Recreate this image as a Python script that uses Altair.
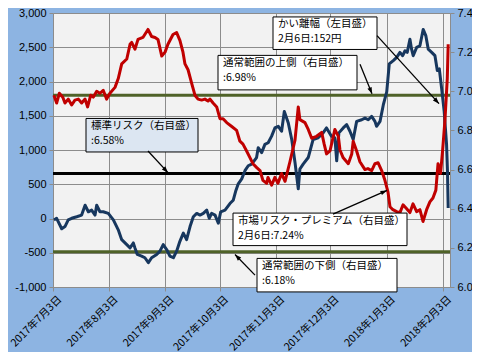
import math
import altair as alt
import pandas as pd

# ---------------- data ----------------
# days since 2017-07-03 and spread (left axis, yen)
blue_days = [0.5, 2.0, 4.8, 6.6, 8.4, 10.3, 13.1, 15.8, 17.7, 19.5,
             21.3, 23.2, 24.1, 25.9, 27.7, 30.5, 33.3, 36.0, 37.9, 40.7,
             42.5, 44.3, 45.2, 46.5, 48.9, 50.7, 52.6, 54.4, 57.2, 59.0,
             60.8, 62.7, 64.5, 66.4, 68.2, 70.0, 71.9, 73.7, 75.6, 77.4,
             79.3, 81.1, 82.9, 84.8, 86.2, 87.5, 89.4, 91.2, 92.5, 94.9,
             97.6, 99.4, 100.9, 102.2, 104.1, 105.9, 107.7, 109.6, 112.3, 113.2,
             115.1, 116.9, 118.7, 120.6, 122.4, 124.3, 126.1, 127.6, 129.8, 131.7,
             133.5, 135.3, 136.2, 138.0, 140.8, 143.5, 146.3, 149.0, 150.9, 153.6,
             155.5, 156.5, 157.7, 160.1, 162.0, 163.8, 165.6, 167.5, 170.3, 172.1,
             173.9, 175.8, 177.6, 178.5, 180.4, 182.2, 184.1, 185.5, 187.7, 189.6,
             191.4, 192.9, 194.2, 195.4, 196.9, 197.8, 198.7, 200.6, 202.4, 204.2,
             205.7, 207.0, 208.9, 210.7, 212.0, 213.1, 214.4, 215.8, 217.1, 217.6,
             218.0]
blue_vals = [-21, 3, -150, -118, -21, 3, 26, 50, 194, 98,
             122, 50, 194, 98, 98, 74, -21, -165, -309, -381,
             -429, -357, -429, -525, -549, -573, -645, -573, -525, -477,
             -381, -453, -549, -573, -477, -333, -213, -309, -118, 26,
             74, 50, 74, 122, 3, 74, 50, -69, 98, 122,
             218, 266, 410, 506, 578, 698, 770, 794, 890, 1034,
             962, 1082, 1106, 1202, 1322, 1346, 1274, 1561, 1394, 1154,
             818, 434, 722, 794, 890, 1154, 1178, 1250, 1322, 1202,
             1178, 842, 1250, 1322, 1370, 1274, 1154, 1418, 1442, 1466,
             1442, 1490, 1418, 1346, 1418, 1658, 1849, 2256, 2305, 2353,
             2425, 2377, 2449, 2425, 2616, 2472, 2377, 2497, 2521, 2760,
             2665, 2472, 2425, 2377, 2161, 2185, 1897, 1561, 1082, 698,
             152]

# days since 2017-07-03 and market risk premium (right axis, %)
red_days = [0.5, 2.0, 3.5, 5.4, 6.6, 8.4, 10.3, 12.1, 14.0, 15.8,
            17.7, 19.1, 20.8, 22.2, 24.1, 25.9, 27.7, 29.6, 31.4, 34.2,
            36.0, 37.9, 40.7, 42.5, 43.4, 45.2, 46.9, 49.6, 52.4, 54.4,
            56.3, 57.9, 60.0, 61.8, 63.4, 66.2, 68.2, 70.0, 71.7, 72.8,
            74.5, 76.5, 78.3, 80.0, 82.0, 83.8, 85.5, 86.6, 88.3, 90.3,
            92.1, 93.8, 95.8, 98.6, 101.3, 103.1, 104.8, 106.8, 108.7, 110.3,
            112.4, 114.2, 115.8, 117.9, 118.6, 120.6, 122.4, 124.1, 126.1, 128.0,
            130.7, 133.5, 135.3, 136.2, 139.0, 140.8, 142.7, 145.4, 148.2, 149.6,
            150.9, 152.8, 155.5, 157.4, 158.3, 160.1, 162.9, 164.8, 165.6, 167.5,
            169.3, 172.1, 173.7, 175.8, 177.6, 179.3, 181.3, 183.1, 184.8, 185.9,
            187.5, 189.6, 191.4, 193.1, 195.1, 196.9, 198.6, 200.6, 202.4, 204.1,
            206.1, 207.9, 209.6, 211.2, 212.4, 213.8, 214.9, 216.2, 217.5, 218.0]
red_vals = [6.98, 6.94, 6.99, 6.97, 6.94, 6.96, 6.93, 6.955, 6.96, 6.94,
            6.96, 6.92, 6.98, 6.97, 7.00, 6.99, 7.005, 6.96, 6.99, 7.02,
            7.065, 7.14, 7.165, 7.24, 7.25, 7.215, 7.265, 7.275, 7.316, 7.28,
            7.275, 7.265, 7.18, 7.20, 7.24, 7.29, 7.30, 7.26, 7.20, 7.14,
            7.11, 7.04, 6.98, 6.96, 6.955, 6.96, 6.95, 6.96, 6.94, 6.92,
            6.86, 6.86, 6.84, 6.82, 6.80, 6.745, 6.73, 6.695, 6.66, 6.63,
            6.61, 6.595, 6.545, 6.53, 6.56, 6.52, 6.56, 6.53, 6.58, 6.54,
            6.64, 6.75, 6.92, 6.855, 6.84, 6.805, 6.76, 6.77, 6.79, 6.73,
            6.68, 6.695, 6.805, 6.77, 6.70, 6.66, 6.63, 6.68, 6.745, 6.695,
            6.64, 6.60, 6.605, 6.595, 6.63, 6.635, 6.595, 6.545, 6.485, 6.41,
            6.395, 6.385, 6.38, 6.42, 6.40, 6.38, 6.425, 6.385, 6.395, 6.335,
            6.395, 6.435, 6.455, 6.495, 6.63, 6.58, 6.695, 6.85, 7.065, 7.24]

ref_levels = [6.98, 6.58, 6.18]
ref_kinds = ["上側", "標準", "下側"]
ref_colors = ["#4F6228", "#000000", "#4F6228"]

tick_months = [(2017, 7), (2017, 8), (2017, 9), (2017, 10), (2017, 11),
               (2017, 12), (2018, 1), (2018, 2)]
left_ticks = [-1000, -500, 0, 500, 1000, 1500, 2000, 2500, 3000]
right_ticks = [6.0, 6.2, 6.4, 6.6, 6.8, 7.0, 7.2, 7.4]

annotation_texts = [
    "かい離幅（左目盛）\n2月6日:152円",
    "通常範囲の上側（右目盛）\n:6.98%",
    "標準リスク（右目盛）\n:6.58%",
    "市場リスク・プレミアム（右目盛）\n2月6日:7.24%",
    "通常範囲の下側（右目盛）\n:6.18%",
]

# ---------------- build ----------------
start = pd.Timestamp("2017-07-03")


def to_iso(days):
    return [(start + pd.Timedelta(days=float(d))).strftime("%Y-%m-%dT%H:%M:%SZ") for d in days]


blue_df = pd.DataFrame({"date": to_iso(blue_days), "spread": blue_vals})
red_df = pd.DataFrame({"date": to_iso(red_days), "premium": red_vals})
ref_df = pd.DataFrame({"level": ref_levels, "kind": ref_kinds})

W, H = 397, 274
GRID = "#8C8C8C"
NUMFONT = "Liberation Sans"
JPFONT = "Noto Sans CJK JP"

x_dom = [alt.DateTime(year=2017, month=7, date=3, utc=True),
         alt.DateTime(year=2018, month=2, date=7, utc=True)]
tick_dates = [alt.DateTime(year=y, month=m, date=3, utc=True) for (y, m) in tick_months]

x_axis = alt.Axis(
    values=tick_dates,
    labelExpr="utcyear(datum.value) + '年' + (utcmonth(datum.value) + 1) + '月' + utcdate(datum.value) + '日'",
    labelAngle=-45, labelAlign="right", labelBaseline="top",
    labelFont=JPFONT, labelFontSize=10.5, labelColor="#000000", labelPadding=3,
    labelOffset=3,
    grid=True, gridColor=GRID, domainColor=GRID, tickColor=GRID, tickSize=4,
    labelOverlap=False, labelBound=False,
)
x_enc = alt.X("date:T", scale=alt.Scale(type="utc", domain=x_dom), axis=x_axis, title=None)

left_axis = alt.Axis(
    orient="left", values=left_ticks,
    labelExpr="(datum.value < 0 ? '-' : '') + format(abs(datum.value), ',')",
    labelFont=NUMFONT, labelFontSize=11, labelColor="#000000", labelPadding=3,
    grid=True, gridColor=GRID, domainColor=GRID, tickColor=GRID, tickSize=4,
)
right_axis = alt.Axis(
    orient="right", values=right_ticks, format=".1f",
    labelFont=NUMFONT, labelFontSize=11, labelColor="#000000", labelPadding=3,
    grid=False, domainColor=GRID, tickColor=GRID, tickSize=4,
)
y_left = alt.Scale(domain=[-1000, 3000], nice=False, zero=False)

rules = alt.Chart(ref_df).mark_rule(strokeWidth=3).encode(
    y=alt.Y("level:Q", scale=alt.Scale(domain=[6.0, 7.4], nice=False, zero=False), axis=None),
    color=alt.Color("kind:N", scale=alt.Scale(domain=ref_kinds, range=ref_colors), legend=None),
)

blue = alt.Chart(blue_df).mark_line(color="#17375E", strokeWidth=3, strokeJoin="round").encode(
    x=x_enc,
    y=alt.Y("spread:Q", scale=y_left, axis=left_axis, title=None),
)

red = alt.Chart(red_df).mark_line(color="#C00000", strokeWidth=3, strokeJoin="round").encode(
    x=x_enc,
    y=alt.Y("premium:Q", scale=alt.Scale(domain=[6.0, 7.4], nice=False, zero=False),
            axis=right_axis, title=None),
)

# ---------------- annotations (pixel positions) ----------------
def px(x):
    return x - 53


def py(y):
    return (y - 10) * H / 278.0


box_specs = [
    (273, 14, 377, 47, "#FFFFFF"),
    (218, 53, 357, 88, "#FFFFFF"),
    (86, 117, 198, 151, "#DCE6F2"),
    (233, 213, 407, 246, "#FFFFFF"),
    (257, 259, 397, 293, "#FFFFFF"),
]
arrow_specs = [
    (377, 33, 439, 102),
    (360, 62, 372, 92),
    (148, 150, 168, 172),
    (333, 214, 387, 190),
    (255, 276, 235, 255),
]

dummy = alt.Data(values=[{"k": 0}])
ann_layers = []
for (x0, y0, x1, y1, fill), txt in zip(box_specs, annotation_texts):
    ann_layers.append(
        alt.Chart(dummy).mark_rect(fill=fill, stroke="#000000", strokeWidth=1).encode(
            x=alt.value(px(x0)), x2=alt.value(px(x1)),
            y=alt.value(py(y0)), y2=alt.value(py(y1)),
        )
    )
    ann_layers.append(
        alt.Chart(dummy).mark_text(
            align="left", baseline="top", font=JPFONT, fontSize=10.5,
            lineBreak="\n", lineHeight=15, color="#000000",
        ).encode(
            x=alt.value(px(x0) + 5), y=alt.value(py(y0) + 2.5), text=alt.value(txt),
        )
    )

for (xa, ya, xb, yb) in arrow_specs:
    ax0, ay0, ax1, ay1 = px(xa), py(ya), px(xb), py(yb)
    ang = math.degrees(math.atan2(ax1 - ax0, -(ay1 - ay0))) % 360
    ann_layers.append(
        alt.Chart(dummy).mark_rule(color="#000000", strokeWidth=1.3).encode(
            x=alt.value(ax0), y=alt.value(ay0), x2=alt.value(ax1), y2=alt.value(ay1),
        )
    )
    ann_layers.append(
        alt.Chart(dummy).mark_point(
            shape="M 0 0 L 0.35 1 L -0.35 1 Z", filled=True, color="#000000",
            opacity=1, size=170, angle=ang,
        ).encode(x=alt.value(ax1), y=alt.value(ay1))
    )

chart = alt.layer(rules, blue, red, *ann_layers).resolve_scale(
    y="independent"
).properties(
    width=W, height=H,
    autosize=alt.AutoSizeParams(type="none"),
    padding={"left": 45, "top": 5, "right": 22, "bottom": 65},
    background="#8DB4E2",
).configure_view(
    fill="#F2F2F2", stroke=None,
)

chart.save("out.html", embed_options={"renderer": "svg", "actions": False})
